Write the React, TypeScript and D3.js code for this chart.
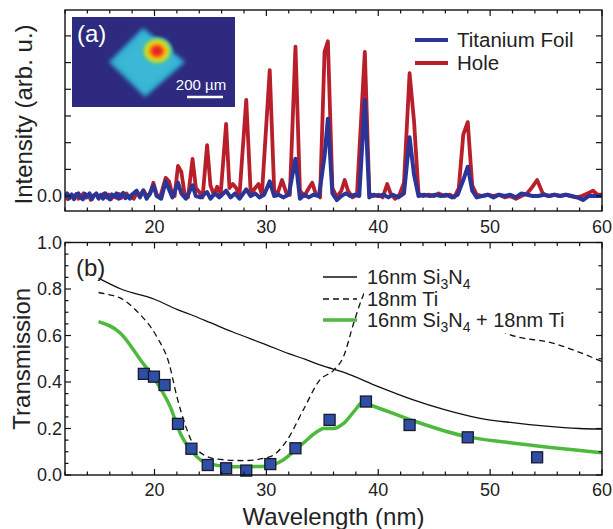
import React from "react";
import * as d3 from "d3";

// ---------- Panel (a): spectra ----------
const holeSpectrum: [number, number][] = [
  [12.0, 0.05], [12.25, -0.12], [12.5, 0.02], [12.75, -0.08], [13.0, 0.08], [13.2, -0.1], [13.4, -0.02],
  [13.65, 0.1], [13.9, -0.06], [14.1, 0.05], [14.3, -0.14], [14.55, 0.02], [14.8, 0.06], [15.0, -0.1],
  [15.2, -0.02], [15.45, 0.09], [15.7, -0.05], [15.9, 0.06], [16.1, -0.12], [16.35, 0.02], [16.6, -0.06],
  [16.8, 0.08], [17.0, -0.08], [17.25, 0.04], [17.5, 0.1], [17.7, -0.06], [17.9, 0.02], [18.15, -0.1],
  [18.4, 0.12], [18.7, 0.0], [19.0, 0.22], [19.3, 0.0], [19.6, 0.08], [19.9, 0.5], [20.2, 0.05],
  [20.5, -0.05], [21.0, 0.68], [21.3, 0.55], [21.6, 0.05], [21.8, 0.0], [22.1, 1.13], [22.4, 0.9],
  [22.7, 0.05], [23.0, -0.05], [23.4, 1.39], [23.7, 0.3], [24.0, 0.15], [24.3, -0.05], [24.7, 1.91],
  [25.0, 0.4], [25.3, 0.05], [25.6, 0.35], [25.9, 0.0], [26.4, 2.7], [26.7, 0.3], [27.0, 0.45],
  [27.3, 0.3], [27.6, 0.05], [28.2, 3.6], [28.6, 0.1], [29.0, 0.3], [29.3, 0.45], [29.6, 0.05],
  [30.3, 4.72], [30.7, 0.2], [31.0, 0.1], [31.4, 0.6], [31.8, 0.1], [32.1, 0.05], [32.6, 5.6],
  [33.0, 0.2], [33.4, 0.0], [33.8, 0.3], [34.1, 0.5], [34.4, 0.1], [34.8, -0.05], [35.2, 5.4],
  [35.5, 5.8], [35.9, 0.3], [36.3, -0.05], [36.7, 0.2], [37.0, 0.6], [37.3, 0.2], [37.7, -0.05],
  [38.1, 0.05], [38.8, 5.4], [39.2, 0.1], [39.6, 0.0], [40.0, 0.05], [40.4, -0.05], [40.8, 0.45],
  [41.1, 0.1], [41.5, -0.1], [41.9, 0.05], [42.3, 0.5], [42.8, 4.6], [43.2, 2.8], [43.6, 0.1],
  [44.0, 0.0], [44.5, 0.05], [45.0, 0.0], [45.4, 0.1], [45.9, 0.0], [46.4, 0.05], [46.8, -0.05],
  [47.2, 0.3], [47.6, 2.3], [48.0, 2.77], [48.4, 0.4], [48.8, 0.05], [49.3, 0.0], [49.8, 0.05],
  [50.3, 0.0], [50.8, 0.05], [51.3, -0.05], [51.8, 0.0], [52.3, -0.1], [52.8, 0.0], [53.3, 0.1],
  [53.7, 0.3], [54.2, 0.6], [54.7, 0.1], [55.2, 0.0], [55.7, 0.05], [56.2, 0.0], [56.7, 0.05],
  [57.2, 0.0], [57.7, -0.05], [58.2, 0.0], [58.7, 0.1], [59.2, 0.2], [59.6, 0.05], [60.0, 0.05],
];

const foilSpectrum: [number, number][] = [
  [12.0, -0.05], [12.2, 0.1], [12.4, -0.08], [12.6, 0.06], [12.8, -0.12], [13.0, 0.04], [13.2, 0.1],
  [13.4, -0.06], [13.6, -0.12], [13.8, 0.08], [14.0, -0.02], [14.2, 0.1], [14.4, -0.12], [14.6, 0.02],
  [14.8, 0.1], [15.0, -0.08], [15.2, 0.04], [15.4, -0.1], [15.6, 0.1], [15.8, -0.04], [16.0, -0.12],
  [16.2, 0.06], [16.4, -0.02], [16.6, 0.1], [16.8, -0.1], [17.0, 0.04], [17.2, 0.12], [17.4, -0.08],
  [17.6, 0.02], [17.8, -0.1], [18.0, 0.06], [18.4, 0.2], [18.7, -0.05], [19.0, 0.2], [19.3, -0.1],
  [19.6, 0.1], [19.9, 0.4], [20.2, 0.0], [20.6, -0.1], [21.0, 0.55], [21.3, 0.25], [21.6, -0.05],
  [22.1, 0.5], [22.4, 0.1], [22.8, -0.1], [23.4, 0.4], [23.7, 0.0], [24.1, -0.05], [24.7, 0.15],
  [25.0, -0.1], [25.4, 0.1], [25.8, -0.05], [26.4, 0.2], [26.8, -0.05], [27.2, 0.1], [27.6, -0.1],
  [28.2, 0.25], [28.6, 0.0], [29.0, 0.1], [29.4, -0.05], [29.8, 0.05], [30.3, 0.55], [30.7, 0.0],
  [31.1, 0.05], [31.5, -0.05], [32.0, 0.05], [32.6, 1.4], [33.0, -0.1], [33.4, 0.05], [33.8, -0.05],
  [34.2, 0.05], [34.7, 0.0], [35.2, 1.5], [35.5, 2.9], [35.9, 0.1], [36.3, -0.15], [36.7, 0.0],
  [37.1, 0.1], [37.5, 0.0], [37.9, 0.05], [38.3, 0.0], [38.8, 3.6], [39.2, -0.05], [39.6, 0.05],
  [40.0, 0.0], [40.5, 0.05], [40.9, -0.05], [41.3, 0.05], [41.8, -0.05], [42.3, 0.1], [42.8, 2.2],
  [43.2, 0.8], [43.6, 0.0], [44.1, 0.05], [44.6, 0.0], [45.1, 0.05], [45.6, 0.0], [46.1, 0.05],
  [46.6, -0.05], [47.1, 0.05], [47.6, 0.6], [48.0, 1.1], [48.4, 0.2], [48.8, -0.05], [49.3, 0.0],
  [49.8, 0.05], [50.3, -0.05], [50.8, 0.05], [51.3, 0.0], [51.8, 0.05], [52.3, -0.05], [52.8, 0.1],
  [53.3, 0.05], [53.8, 0.0], [54.3, 0.0], [54.8, 0.05], [55.3, 0.0], [55.8, 0.05], [56.3, 0.0],
  [56.8, 0.05], [57.3, 0.0], [57.8, -0.05], [58.3, -0.15], [58.8, 0.0], [59.3, 0.0], [60.0, 0.0],
];

// ---------- Panel (b): transmission ----------
const si3n4: [number, number][] = [
  [15, 0.847], [17, 0.8], [20, 0.756], [22, 0.712], [23.5, 0.685], [25, 0.655], [27, 0.615],
  [30, 0.56], [32, 0.522], [33.5, 0.497], [35, 0.47], [37, 0.44], [40, 0.38], [43, 0.325],
  [46, 0.28], [49, 0.245], [52, 0.225], [55, 0.21], [58, 0.2], [60, 0.197],
];

const ti18: [number, number][] = [
  [15, 0.785], [16, 0.775], [17, 0.76], [18.45, 0.703], [20.2, 0.595], [21.3, 0.48], [22.0, 0.337],
  [22.8, 0.208], [23.8, 0.108], [25.6, 0.068], [28.0, 0.062], [30.35, 0.079], [31.85, 0.15],
  [33.3, 0.28], [34.8, 0.41], [36.0, 0.45], [36.9, 0.51], [37.8, 0.653], [38.55, 0.76],
  [39.5, 0.85], [41, 0.88], [44, 0.82], [48, 0.7], [51.8, 0.603], [55.6, 0.567], [60, 0.488],
];

const combined: [number, number][] = [
  [15, 0.66], [16.96, 0.61], [18.75, 0.495], [20.24, 0.395], [21.4, 0.294], [22.3, 0.18],
  [23.5, 0.093], [24.7, 0.05], [26.9, 0.036], [30.06, 0.038], [31.5, 0.065], [33.0, 0.125],
  [34.8, 0.194], [35.1, 0.2], [36.0, 0.2], [36.9, 0.222], [37.95, 0.28], [38.55, 0.311],
  [39.3, 0.3], [42.9, 0.237], [47.9, 0.165], [51.8, 0.139], [60, 0.096],
];

const measuredWl = [19.05, 19.95, 20.9, 22.1, 23.3, 24.76, 26.4, 28.2, 30.35, 32.6, 35.65, 38.9, 42.8, 48.0, 54.2];
const measuredT = [0.435, 0.423, 0.387, 0.22, 0.113, 0.043, 0.029, 0.019, 0.047, 0.115, 0.237, 0.316, 0.215, 0.162, 0.076];

const xTickLabels = [20, 30, 40, 50, 60];
const yTickLabelsB = [0.0, 0.2, 0.4, 0.6, 0.8, 1.0];

const FONT = "'Liberation Sans', Arial, Helvetica, sans-serif";

const L = 65, R = 602;
const topA = 10, botA = 211;
const topB = 242.5, botB = 475;

export default function App() {
  const x = d3.scaleLinear().domain([12, 60]).range([L, R]);
  const yA = d3.scaleLinear().domain([-0.56, 6.97]).range([botA, topA]);
  const yB = d3.scaleLinear().domain([0, 1]).range([botB, topB]);

  const lineA = d3.line<[number, number]>().x(d => x(d[0])).y(d => yA(d[1]));
  const smoothB = d3.line<[number, number]>().x(d => x(d[0])).y(d => yB(d[1])).curve(d3.curveMonotoneX);

  const xMinor = d3.range(12, 60.01, 2);
  const yAticks = d3.range(0, 7, 1);
  const yBminorL = d3.range(0, 1.001, 0.05);
  const yBminorR = d3.range(0, 1.001, 0.1);

  const tickStroke = { stroke: "#111", strokeWidth: 1.2 };

  const frame = (t: number, b: number) => (
    <rect x={L} y={t} width={R - L} height={b - t} fill="none" stroke="#111" strokeWidth={1.4} />
  );

  const xTicks = (t: number, b: number) =>
    xMinor.map(v => {
      const major = Math.abs(v % 10) < 1e-6;
      const len = major ? 6 : 3.5;
      return (
        <g key={"xt" + t + v}>
          <line x1={x(v)} x2={x(v)} y1={b} y2={b - len} {...tickStroke} />
          <line x1={x(v)} x2={x(v)} y1={t} y2={t + len} {...tickStroke} />
        </g>
      );
    });

  return (
    <svg width={613} height={529} style={{ position: "absolute", left: 0, top: 0, background: "#fff" }} fontFamily={FONT}>
      <defs>
        <clipPath id="clipA"><rect x={L} y={topA} width={R - L} height={botA - topA} /></clipPath>
        <clipPath id="clipInset"><rect x={72} y={17} width={163} height={90} /></clipPath>
        <filter id="blur2" x="-20%" y="-20%" width="140%" height="140%"><feGaussianBlur stdDeviation="2.2" /></filter>
        <filter id="blur1" x="-30%" y="-30%" width="160%" height="160%"><feGaussianBlur stdDeviation="1.2" /></filter>
        <radialGradient id="spot">
          <stop offset="0%" stopColor="#e0161c" />
          <stop offset="28%" stopColor="#f03a1c" />
          <stop offset="48%" stopColor="#f7b40e" />
          <stop offset="64%" stopColor="#c6dc2a" />
          <stop offset="82%" stopColor="#55c68a" />
          <stop offset="100%" stopColor="#36b4d4" stopOpacity={0} />
        </radialGradient>
      </defs>

      {/* ===== Panel (a) ===== */}
      <g clipPath="url(#clipA)">
        <path d={lineA(holeSpectrum) || ""} fill="none" stroke="#b91f2a" strokeWidth={3.8} strokeLinejoin="round" />
        <path d={lineA(foilSpectrum) || ""} fill="none" stroke="#2a3597" strokeWidth={4} strokeLinejoin="round" />
      </g>
      {frame(topA, botA)}
      {xTicks(topA, botA)}
      {yAticks.map(v => (
        <g key={"ya" + v}>
          <line x1={L} x2={L + 6} y1={yA(v)} y2={yA(v)} {...tickStroke} />
          <line x1={R} x2={R - 6} y1={yA(v)} y2={yA(v)} {...tickStroke} />
        </g>
      ))}
      <text x={62} y={yA(0)} dy="0.35em" textAnchor="end" fontSize={18} fill="#222">0.0</text>
      {xTickLabels.map(v => (
        <text key={"xla" + v} x={x(v)} y={227} dy="0.35em" textAnchor="middle" fontSize={18} fill="#222">{v}</text>
      ))}
      <text transform={`translate(24,${(topA + botA) / 2 + 4}) rotate(-90)`} textAnchor="middle" dy="0.35em" fontSize={24} fill="#222">
        Intensity (arb. u.)
      </text>

      {/* Inset image */}
      <g clipPath="url(#clipInset)">
        <rect x={72} y={17} width={163} height={90} fill="#2d2a80" />
        <polygon points="143,28 185,62 145,97 109,62" fill="#33aed2" filter="url(#blur2)" />
        <polygon points="143,34 178,62 145,91 116,62" fill="#3ab8d6" filter="url(#blur2)" />
        <ellipse cx={157} cy={51} rx={17} ry={15.5} fill="url(#spot)" filter="url(#blur1)" />
      </g>
      <text x={77} y={42} fontSize={24} fill="#fff">(a)</text>
      <text x={201} y={90} textAnchor="middle" fontSize={15} fill="#fff">200 µm</text>
      <line x1={187} x2={223} y1={97} y2={97} stroke="#fff" strokeWidth={2.5} />

      {/* Legend (a) */}
      <line x1={415} x2={448} y1={40} y2={40} stroke="#2a3597" strokeWidth={4} />
      <text x={457} y={40} dy="0.35em" fontSize={20.5} fill="#222">Titanium Foil</text>
      <line x1={415} x2={448} y1={63} y2={63} stroke="#b91f2a" strokeWidth={4} />
      <text x={457} y={63} dy="0.35em" fontSize={20.5} fill="#222">Hole</text>

      {/* ===== Panel (b) ===== */}
      <path d={smoothB(si3n4) || ""} fill="none" stroke="#111" strokeWidth={1.3} />
      <path d={smoothB(ti18) || ""} fill="none" stroke="#111" strokeWidth={1.3} strokeDasharray="6,4" />
      <rect x={364} y={258} width={216} height={75} fill="#fff" />
      <path d={smoothB(combined) || ""} fill="none" stroke="#4dba3e" strokeWidth={3.5} strokeLinejoin="round" />
      {measuredWl.map((w, i) => (
        <rect key={"m" + i} x={x(w) - 5.5} y={yB(measuredT[i]) - 5.5} width={11} height={11}
          fill="#2f4ea6" stroke="#1a1a2a" strokeWidth={1.3} />
      ))}
      {frame(topB, botB)}
      {xTicks(topB, botB)}
      {yBminorL.map(v => {
        const major = Math.abs(Math.round(v * 100) % 20) < 1e-6;
        return <line key={"ybl" + v} x1={L} x2={L + (major ? 6 : 3.5)} y1={yB(v)} y2={yB(v)} {...tickStroke} />;
      })}
      {yBminorR.map(v => {
        const major = Math.abs(Math.round(v * 100) % 20) < 1e-6;
        return <line key={"ybr" + v} x1={R} x2={R - (major ? 6 : 3.5)} y1={yB(v)} y2={yB(v)} {...tickStroke} />;
      })}
      {yTickLabelsB.map(v => (
        <text key={"ylb" + v} x={62} y={yB(v)} dy="0.35em" textAnchor="end" fontSize={18} fill="#222">{v.toFixed(1)}</text>
      ))}
      {xTickLabels.map(v => (
        <text key={"xlb" + v} x={x(v)} y={490} dy="0.35em" textAnchor="middle" fontSize={18} fill="#222">{v}</text>
      ))}
      <text x={(L + R) / 2} y={517} dy="0.35em" textAnchor="middle" fontSize={24} fill="#222">Wavelength (nm)</text>
      <text transform={`translate(22,${(topB + botB) / 2}) rotate(-90)`} textAnchor="middle" dy="0.35em" fontSize={24} fill="#222">
        Transmission
      </text>
      <text x={76} y={276} fontSize={24} fill="#222">(b)</text>

      {/* Legend (b) */}
      <line x1={323} x2={357} y1={277} y2={277} stroke="#111" strokeWidth={1.3} />
      <text x={367} y={277} dy="0.35em" fontSize={20} fill="#222">
        16nm Si<tspan fontSize={14} dy={5}>3</tspan><tspan dy={-5}>N</tspan><tspan fontSize={14} dy={5}>4</tspan>
      </text>
      <line x1={323} x2={357} y1={299} y2={299} stroke="#111" strokeWidth={1.3} strokeDasharray="6,4" />
      <text x={367} y={299} dy="0.35em" fontSize={20} fill="#222">18nm Ti</text>
      <line x1={323} x2={357} y1={320} y2={320} stroke="#4dba3e" strokeWidth={3.5} />
      <text x={367} y={320} dy="0.35em" fontSize={20} fill="#222">
        16nm Si<tspan fontSize={14} dy={5}>3</tspan><tspan dy={-5}>N</tspan><tspan fontSize={14} dy={5}>4</tspan><tspan dy={-5}> + 18nm Ti</tspan>
      </text>
    </svg>
  );
}
